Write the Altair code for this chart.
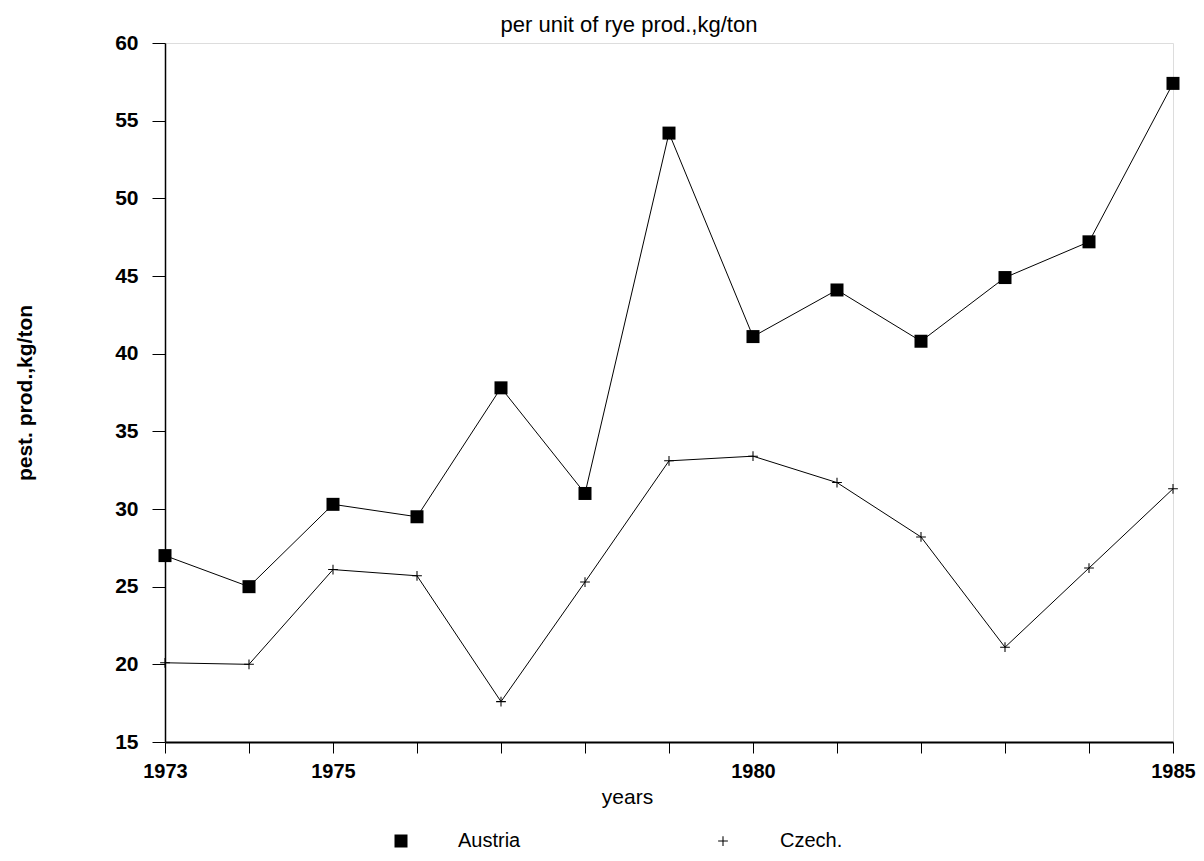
import altair as alt
import pandas as pd

years = [1973, 1974, 1975, 1976, 1977, 1978, 1979, 1980, 1981, 1982, 1983, 1984, 1985]
austria = [27.0, 25.0, 30.3, 29.5, 37.8, 31.0, 54.2, 41.1, 44.1, 40.8, 44.9, 47.2, 57.4]
czech = [20.1, 20.0, 26.1, 25.7, 17.6, 25.3, 33.1, 33.4, 31.7, 28.2, 21.1, 26.2, 31.3]
series_names = ["Austria", "Czech."]
y_ticks = [15, 20, 25, 30, 35, 40, 45, 50, 55, 60]
x_labels = [1973, 1975, 1980, 1985]

rows = []
for yr, a, c in zip(years, austria, czech):
    rows.append({"year": yr, "value": a, "country": series_names[0]})
    rows.append({"year": yr, "value": c, "country": series_names[1]})
df = pd.DataFrame(rows)

FONT = "Liberation Sans"
label_test = " || ".join(f"datum.value == {v}" for v in x_labels)

PLUS = "M-0.75,-0.08H0.75V0.08H-0.75ZM-0.08,-0.75H0.08V0.75H-0.08Z"

x_enc = alt.X(
    "year:Q",
    scale=alt.Scale(domain=[years[0], years[-1]], nice=False, zero=False),
    axis=alt.Axis(
        values=years,
        labelExpr=f"({label_test}) ? datum.label : ''",
        format="d",
        title="years",
        titleFont=FONT,
        titleFontSize=21,
        titleFontWeight="normal",
        titleX=462,
        titleY=55,
        titleBaseline="middle",
        labelFont=FONT,
        labelFontSize=20,
        labelFontWeight="bold",
        labelColor="black",
        labelPadding=8,
        tickSize=11,
        tickColor="black",
        domainColor="black",
        domainWidth=2,
        grid=False,
        labelFlush=False,
        labelOverlap=False,
    ),
)
y_enc = alt.Y(
    "value:Q",
    scale=alt.Scale(domain=[15, 60], nice=False, zero=False),
    axis=alt.Axis(
        values=y_ticks,
        title="pest. prod.,kg/ton",
        titleFont=FONT,
        titleFontSize=21,
        titleFontWeight="bold",
        titleX=-140,
        titleY=349.5,
        titleBaseline="middle",
        titleAngle=270,
        labelFont=FONT,
        labelFontSize=21,
        labelFontWeight="bold",
        labelColor="black",
        labelPadding=14,
        tickSize=13,
        tickColor="black",
        domainColor="black",
        domainWidth=1.5,
        grid=False,
    ),
)

base = alt.Chart(df)

lines = base.mark_line(color="black", strokeWidth=1).encode(
    x=x_enc, y=y_enc, detail="country:N"
)

points = base.mark_point(filled=True, size=169, color="black", opacity=1).encode(
    x=x_enc,
    y=y_enc,
    shape=alt.Shape(
        "country:N",
        scale=alt.Scale(domain=series_names, range=["square", PLUS]),
        legend=alt.Legend(
            title=None,
            orient="none",
            legendX=226,
            legendY=788,
            direction="horizontal",
            columns=2,
            labelFont=FONT,
            labelFontSize=20,
            labelColor="black",
            labelOffset=47,
            columnPadding=192,
            symbolFillColor="black",
            symbolStrokeWidth=0,
            symbolSize=169,
            symbolOpacity=1,
        ),
    ),
)

chart = (
    alt.layer(lines, points)
    .properties(
        width=1008,
        height=699,
        autosize=alt.AutoSizeParams(type="none"),
        padding={"left": 157, "top": 35, "right": 23, "bottom": 108},
        title=alt.TitleParams(
            text="per unit of rye prod.,kg/ton",
            font=FONT,
            fontSize=22,
            fontWeight="normal",
            color="black",
            anchor="middle",
            dx=-40,
            dy=37,
            baseline="bottom",
            offset=10,
        ),
    )
    .configure_view(stroke="black", strokeWidth=1.3)
    .configure(background="white")
)

chart.save("out.html", embed_options={"renderer": "svg", "actions": False})
